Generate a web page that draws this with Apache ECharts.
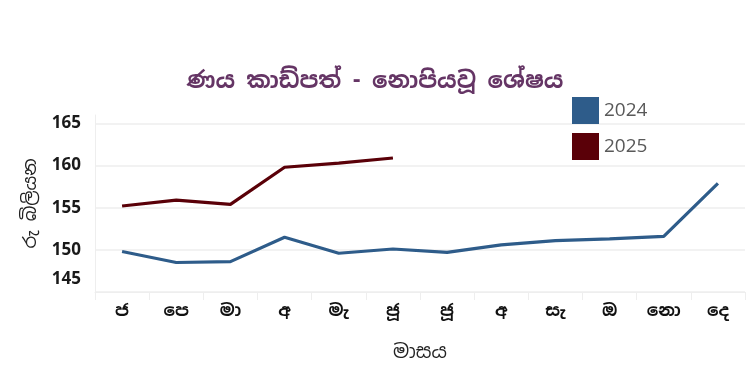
<!DOCTYPE html>
<html><head><meta charset="utf-8">
<script src="https://cdn.jsdelivr.net/npm/echarts@6/dist/echarts.min.js"></script>
<style>html,body{margin:0;padding:0;background:#fff}#c{width:750px;height:390px}</style>
</head><body><div id="c"></div>
<script>
const months = ['ජ','පෙ','මා','අ','මැ','ජූ','ජූ','අ','සැ','ඔ','නො','දෙ'];
const values2024 = [149.8,148.5,148.6,151.5,149.6,150.1,149.7,150.6,151.1,151.3,151.6,157.9];
const values2025 = [155.2,155.9,155.4,159.8,160.3,160.9];
const yTicks = [145,150,155,160,165];
const FONT = '"Noto Sans Sinhala","Iskoola Pota","Noto Sans",sans-serif';
const chart = echarts.init(document.getElementById('c'));
chart.setOption({
  animation:false,
  title:{text:'ණය කාඩ්පත් - නොපියවූ ශේෂය',left:'center',top:65,
    textStyle:{fontFamily:FONT,fontSize:23,fontWeight:'bold',color:'#653565'}},
  legend:{orient:'vertical',left:567,top:92,itemWidth:27,itemHeight:27,itemGap:9,icon:'rect',
    textStyle:{fontFamily:'"Open Sans",sans-serif',fontSize:19,color:'#595959'},
    data:['2024','2025']},
  grid:{left:95,right:5,top:115,bottom:98},
  xAxis:{type:'category',data:months,boundaryGap:true,
    name:'මාසය',nameLocation:'middle',nameGap:51,
    nameTextStyle:{fontFamily:FONT,fontSize:19,color:'#222'},
    axisLine:{show:true,lineStyle:{color:'#eeeeee'}},
    axisTick:{show:true,length:8,lineStyle:{color:'#eeeeee'}},
    axisLabel:{margin:11,fontFamily:FONT,fontSize:17,fontWeight:'bold',color:'#111'}},
  yAxis:{type:'value',min:145,max:166,interval:5,
    name:'රු බිලියන',nameLocation:'middle',nameGap:55,
    nameTextStyle:{fontFamily:FONT,fontSize:18,color:'#222'},
    axisLine:{show:true,lineStyle:{color:'#eeeeee'}},
    axisTick:{show:false},
    splitLine:{show:true,showMinLine:true,showMaxLine:false,lineStyle:{color:'#eeeeee',width:1.5}},
    axisLabel:{margin:14,fontFamily:'"Open Sans",sans-serif',fontSize:17,fontWeight:'bold',color:'#1a1a1a',
      showMaxLabel:false,
      formatter:function(v){ if(yTicks.indexOf(v)<0) return ''; return v===145?'{m|'+v+'}':String(v);},
      rich:{m:{fontFamily:'"Open Sans",sans-serif',fontSize:17,fontWeight:'bold',color:'#1a1a1a',padding:[0,0,25,0]}}}},
  series:[
    {name:'2024',type:'line',data:values2024,symbol:'none',lineStyle:{width:3.2,color:'#2E5C8A'},itemStyle:{color:'#2E5C8A'}},
    {name:'2025',type:'line',data:values2025,symbol:'none',lineStyle:{width:3.2,color:'#5A0008'},itemStyle:{color:'#5A0008'}}
  ]
});
</script></body></html>
